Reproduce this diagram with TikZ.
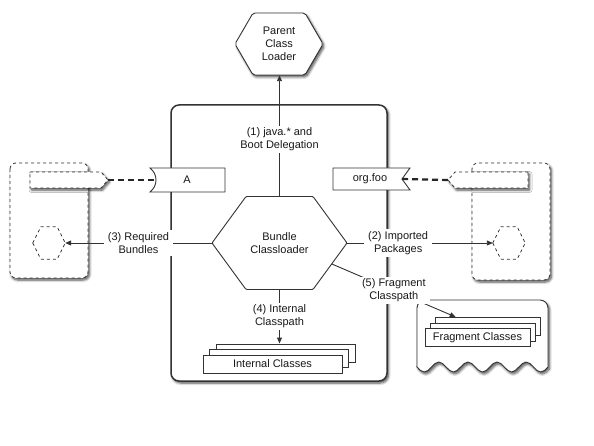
\documentclass[tikz,border=0pt]{standalone}
\usepackage{fontspec}
\setmainfont{Liberation Sans}
\usetikzlibrary{arrows.meta, calc, positioning, shadows.blur}

\begin{document}
\begin{tikzpicture}[x=1pt, y=-1pt, font=\fontsize{11}{13}\selectfont,
  txt/.style={align=center, text=black!90, inner sep=0pt},
  lbl/.style={align=center, text=black!90, fill=white, inner xsep=4pt, inner ysep=2pt},
  ln/.style={draw=black!80, line width=0.9pt},
  arr/.style={ln, -{Triangle[length=6pt, width=5pt]}},
  shd/.style={blur shadow={shadow xshift=1.5pt, shadow yshift=-2pt, shadow blur radius=2.5pt,
    shadow blur steps=6, shadow opacity=70}},
  dsh/.style={draw=black!80, dashed, line width=0.8pt, fill=white},
  wire/.style={black!85, line width=2.2pt, dash pattern=on 6pt off 4pt},
  classbox/.style={draw=black!80, line width=0.9pt, fill=white, text=black!90,
    minimum width=#1, minimum height=18pt, inner sep=0pt}]
\useasboundingbox (0,0) rectangle (594,446);

% the bundle
\draw[ln, line width=1.5pt, rounded corners=8pt, fill=white, shd] (171,105) rectangle (387,381);

% fragment
\draw[ln, fill=white, shd] (417,367) [rounded corners=8pt] -- (417,300) -- (548,300) [sharp corners] -- (548,367)
  \foreach \i in {1,...,4} { sin ++(-7.28,5) cos ++(-7.28,-5) sin ++(-7.28,-5) cos ++(-7.28,5) }
  sin ++(-7.28,5) cos ++(-7.28,-5) -- cycle;

% class stacks
\node[classbox=139pt] (intback) at (286,353) {};
\node[classbox=139pt] (intmid) at (279,358.5) {};
\node[classbox=139pt] (intfront) at (272.5,364) {Internal Classes};
\node[classbox=105pt] (fragback) at (487.5,326.5) {};
\node[classbox=105pt] (fragmid) at (482.5,332) {};
\node[classbox=105pt] (fragfront) at (477.5,337.5) {Fragment Classes};

% tabs
\draw[ln, fill=white] (225,168) -- (150,168) .. controls (158,174) and (158,186) .. (150,192) -- (225,192) -- cycle;
\node[txt] (taba) at (187,180) {A};
\coordinate (asock) at (156,180);
\draw[ln, fill=white] (333,168) -- (410,168) -- (402,179) -- (410,190) -- (333,190) -- cycle;
\node[txt] (tabfoo) at (370,179) {org.foo};
\coordinate (foonotch) at (402,179);

% other bundles
\draw[dsh, shd, rounded corners=6pt] (10,163) rectangle (88,278);
\draw[dsh, shd] (30,172) -- (101,172) -- (108,180) -- (101,188) -- (30,188) -- cycle;
\coordinate (ltip) at (108,180);
\draw[dsh, shd, rounded corners=6pt] (472,163) rectangle (550,280);
\draw[dsh, shd] (528,172) -- (455,172) -- (448,180) -- (455,188) -- (528,188) -- cycle;
\coordinate (rtip) at (448,180);
\draw[wire] (ltip) -- (asock);
\draw[wire] (rtip) -- (foonotch);

\node[minimum width=32pt, minimum height=32pt, inner sep=0pt] (lhex) at (49,243) {};
\node[minimum width=32pt, minimum height=32pt, inner sep=0pt] (rhex) at (509,243) {};
\foreach \h in {lhex, rhex}
  \draw[draw=black!80, dashed, line width=0.8pt] (\h.west) -- ([xshift=8pt]\h.north west) -- ([xshift=-8pt]\h.north east)
    -- (\h.east) -- ([xshift=-8pt]\h.south east) -- ([xshift=8pt]\h.south west) -- cycle;

% loaders
\draw[ln, fill=white, shd, rounded corners=2pt] (235,44) -- ++(18,-31) -- ++(52,0) -- ++(18,31) -- ++(-18,31) -- ++(-52,0) -- cycle;
\node[txt, minimum width=88pt, minimum height=62pt] (parent) at (279,44) {Parent\\Class\\Loader};
\draw[ln, fill=white, rounded corners=1pt] (212,243) -- ++(34,-46.5) -- ++(67,0) -- ++(34,46.5) -- ++(-34,46.5) -- ++(-67,0) -- cycle;
\node[txt, minimum width=135pt, minimum height=93pt] (bundle) at (279.5,243) {Bundle\\Classloader};

% delegation
\draw[arr] (bundle.north) -- node[lbl, pos=0.47] {(1) java.* and\\Boot Delegation} (bundle.north |- parent.south);
\draw[arr] (bundle.west) -- node[lbl] {(3) Required\\Bundles} (lhex.east);
\draw[arr] (bundle.east) -- node[lbl, pos=0.35] {(2) Imported\\Packages} (rhex.west);
\draw[arr] (bundle.south) -- node[lbl] {(4) Internal\\Classpath} (bundle.south |- intback.north);
\draw[arr] ($(bundle.east)!0.45!([xshift=-34pt]bundle.south east)$) -- node[lbl] {(5) Fragment\\Classpath}
  ($(fragback.north west)!0.2!(fragback.north east)$);
\end{tikzpicture}
\end{document}
